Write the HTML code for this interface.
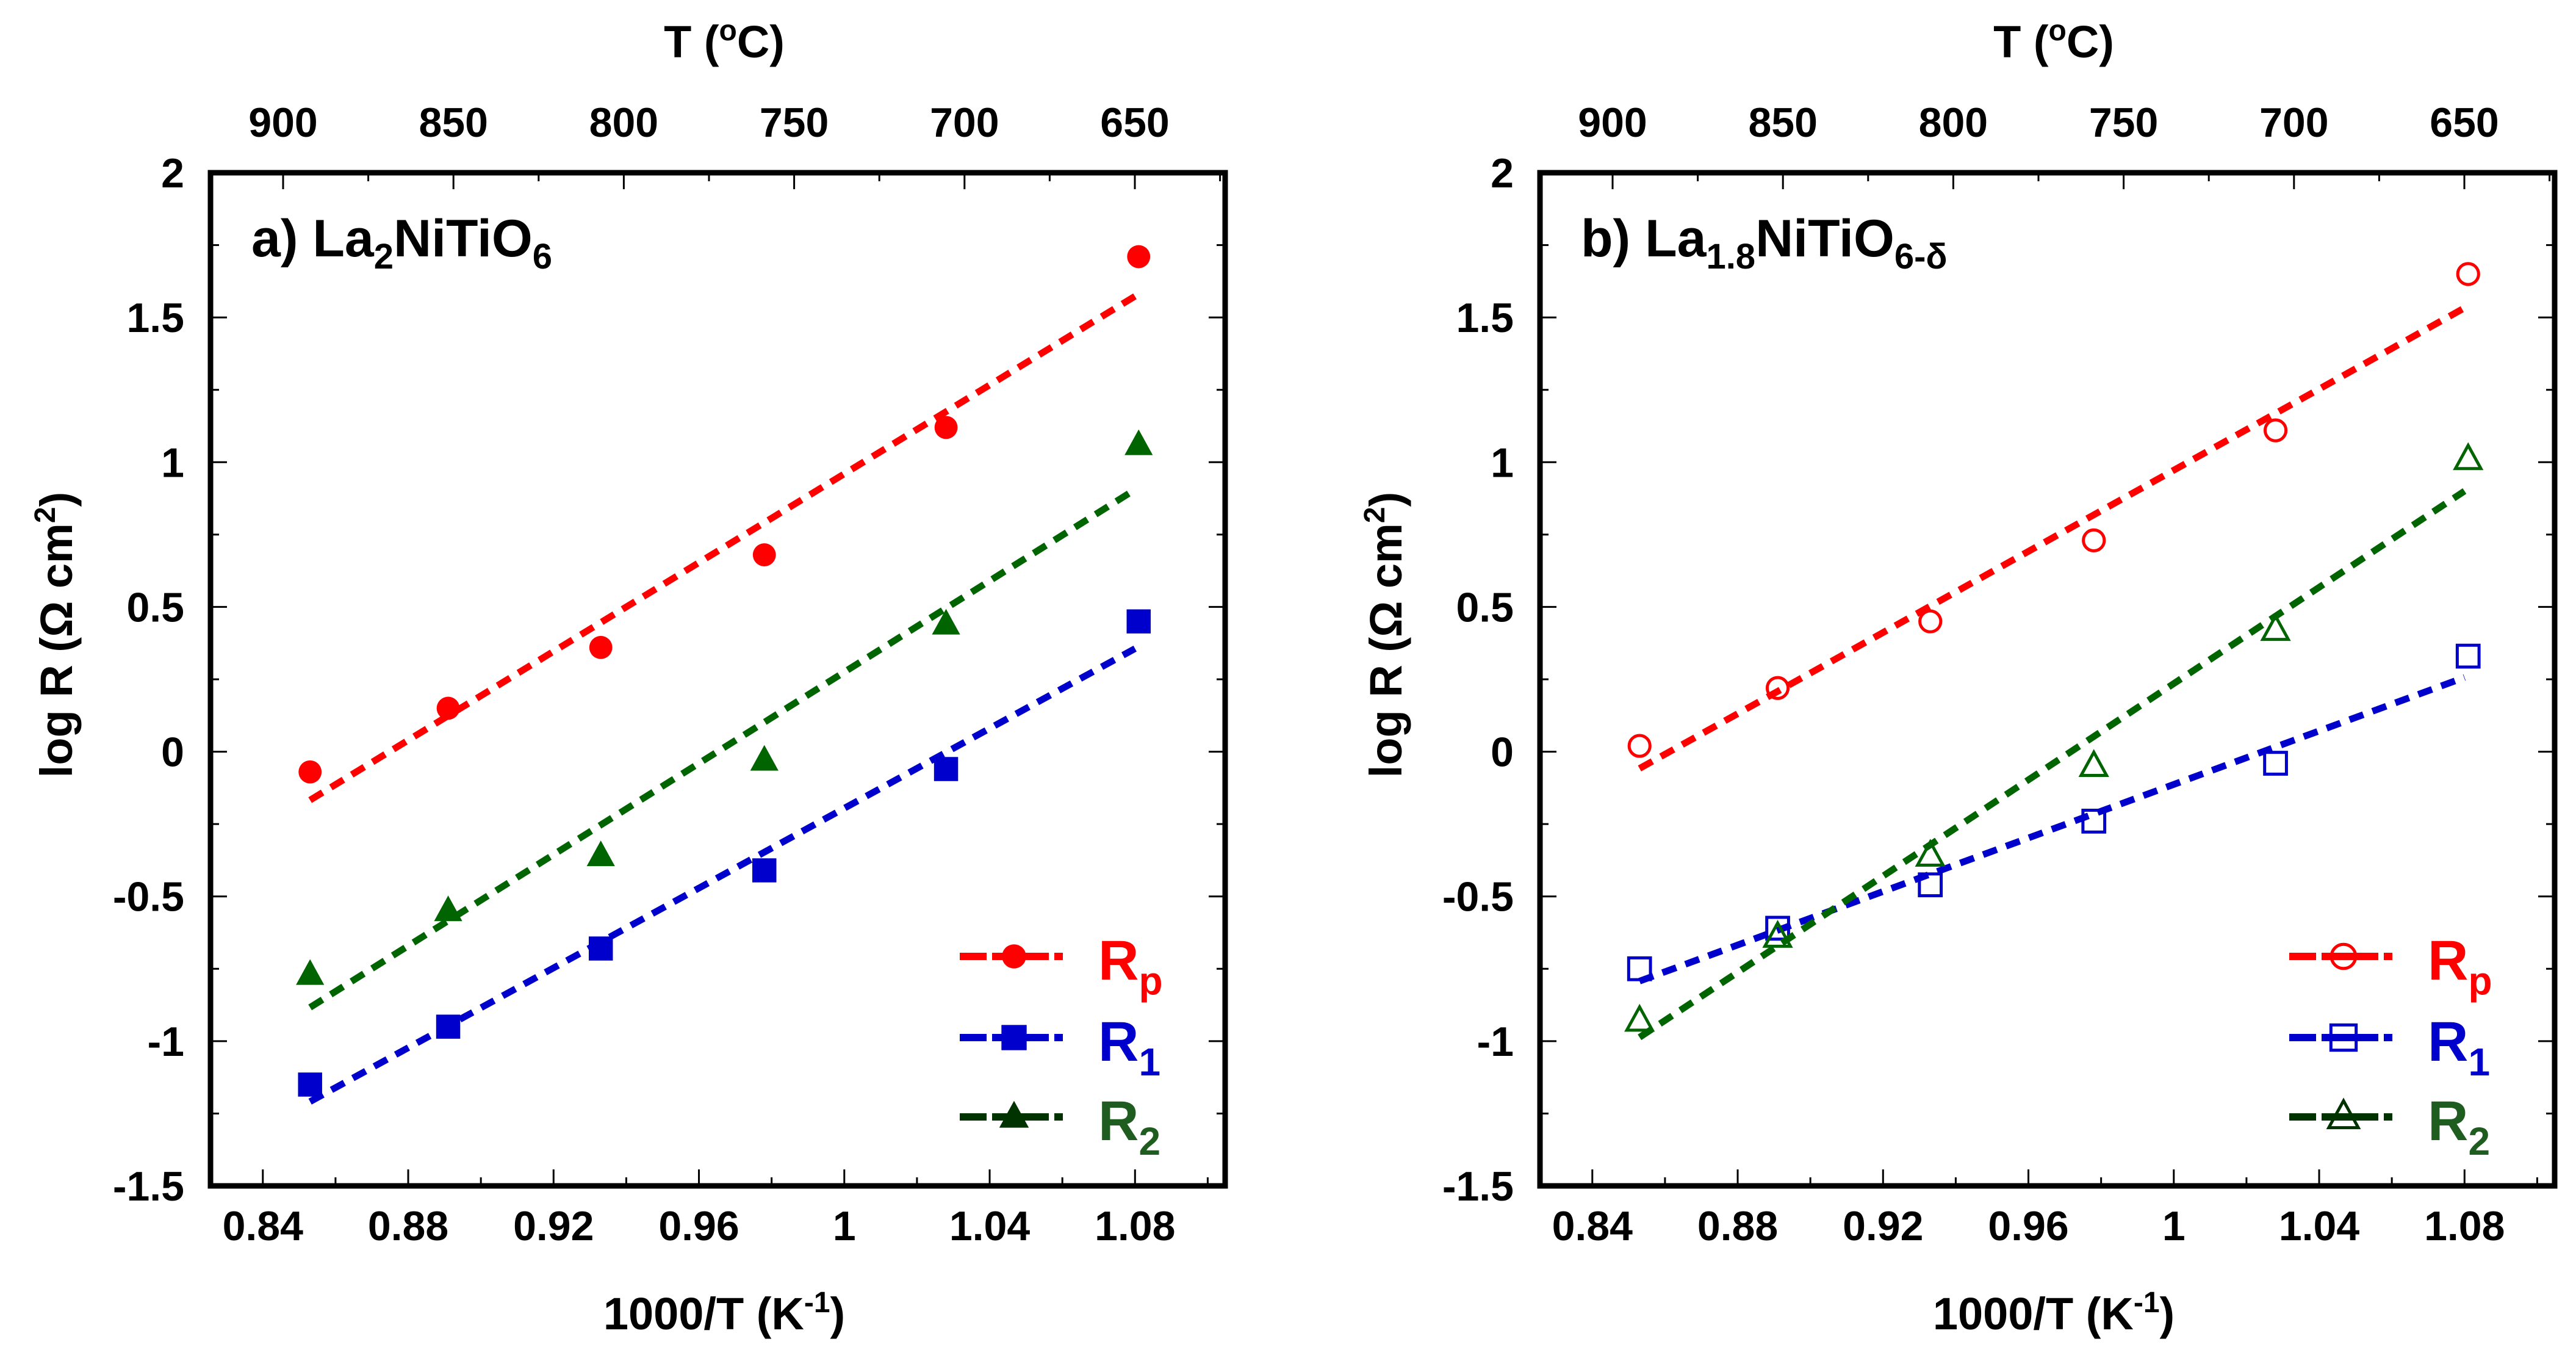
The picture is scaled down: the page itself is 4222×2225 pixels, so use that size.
<!DOCTYPE html>
<html><head><meta charset="utf-8"><style>
html,body{margin:0;padding:0;background:#fff;}
svg{display:block;}
text{font-family:"Liberation Sans",sans-serif;font-weight:bold;}
</style></head><body>
<svg id="fig" width="4222" height="2225" viewBox="0 0 4222 2225" xmlns="http://www.w3.org/2000/svg"></svg>
<script>
// ---- data ----
const xInvT = [0.853, 0.891, 0.933, 0.978, 1.028, 1.081];
const aRp = [-0.07, 0.15, 0.36, 0.68, 1.12, 1.71];
const aR1 = [-1.15, -0.95, -0.68, -0.41, -0.06, 0.45];
const aR2 = [-0.77, -0.55, -0.36, -0.03, 0.44, 1.06];
const bRp = [0.02, 0.22, 0.45, 0.73, 1.11, 1.65];
const bR1 = [-0.75, -0.61, -0.46, -0.24, -0.04, 0.33];
const bR2 = [-0.93, -0.64, -0.36, -0.05, 0.42, 1.01];
const xTicks = [0.84, 0.88, 0.92, 0.96, 1, 1.08, 1.04];
const xTickLabels = ["0.84","0.88","0.92","0.96","1","1.08","1.04"];
const yTicks = [2, 1.5, 1, 0.5, 0, -0.5, -1, -1.5];
const yTickLabels = ["2","1.5","1","0.5","0","-0.5","-1","-1.5"];
const tTicks = [900, 850, 800, 750, 700, 650];
const fitEnd = 1.08;

const NS = "http://www.w3.org/2000/svg";
const svg = document.getElementById('fig');
function el(tag, attrs, parent, txt){
  const e = document.createElementNS(NS, tag);
  for (const k in attrs) e.setAttribute(k, attrs[k]);
  if (txt !== undefined) e.textContent = txt;
  (parent||svg).appendChild(e);
  return e;
}
const colors = {Rp:"#ff0000", R1:"#0000cc", R2:"#006400"};

function panel(ox, label, sub1, sub2, series, filled, pname){
  const L = ox + 345, R = ox + 2008, T = 283, B = 1943;
  const xmin = 0.8256, xmax = 1.1048, ymin = -1.5, ymax = 2;
  const X = v => L + (v - xmin) / (xmax - xmin) * (R - L);
  const Y = v => B - (v - ymin) / (ymax - ymin) * (B - T);
  const TX = t => ox + 464 + (900 - t) / 50 * 279.2;
  const g = el('g', {}, svg);
  
  
  for (let v = 0.82; v <= 1.1001; v += 0.02) {
    const major = Math.abs(Math.round(v*100) % 4) === 0;
    const x = X(v); if (x < L+5 || x > R-5) continue;
    const len = major ? 27 : 14;
    el('line',{x1:x,y1:B,x2:x,y2:B-len,stroke:'#000','stroke-width':3},g);
  }
  for (let t = 900; t >= 625; t -= 25) {
    const x = TX(t); if (x < L+5 || x > R-5) continue;
    const len = (t % 50 === 0) ? 27 : 14;
    el('line',{x1:x,y1:T,x2:x,y2:T+len,stroke:'#000','stroke-width':3},g);
  }
  for (let v = -1.5; v <= 2.001; v += 0.25) {
    const y = Y(v); if (y < T+5 || y > B-5) continue;
    const len = (Math.round(v*4) % 2 === 0) ? 27 : 14;
    el('line',{x1:L,y1:y,x2:L+len,y2:y,stroke:'#000','stroke-width':3},g);
    el('line',{x1:R,y1:y,x2:R-len,y2:y,stroke:'#000','stroke-width':3},g);
  }
  const fr = el('rect',{x:L,y:T,width:R-L,height:B-T,fill:'none',stroke:'#000','stroke-width':9},g);
  
  
  xTicks.forEach((v,i)=>{
    const t = el('text',{x:X(v),y:2032,'text-anchor':'middle','font-size':68},g,xTickLabels[i]);
    
    
  });
  yTicks.forEach((v,i)=>{
    const t = el('text',{x:ox+302,y:Y(v)+24,'text-anchor':'end','font-size':68},g,yTickLabels[i]);
    
    
  });
  tTicks.forEach(v=>{
    const t = el('text',{x:TX(v),y:224,'text-anchor':'middle','font-size':68},g,String(v));
    
    
  });
  const xt = el('text',{x:ox+1187,y:2178,'text-anchor':'middle','font-size':74},g);
  
  
  el('tspan',{},xt,'1000/T (K');
  el('tspan',{dy:-28,'font-size':48},xt,'-1');
  el('tspan',{dy:28},xt,')');
  const tt = el('text',{x:ox+1187,y:94,'text-anchor':'middle','font-size':74},g);
  
  
  el('tspan',{},tt,'T (');
  el('tspan',{dy:-28,'font-size':48},tt,'o');
  el('tspan',{dy:28},tt,'C)');
  const yt = el('text',{x:0,y:0,'text-anchor':'middle','font-size':74,transform:`translate(${ox+118},1040) rotate(-90)`},g);
  
  
  el('tspan',{},yt,'log R (\u03A9 cm');
  el('tspan',{dy:-28,'font-size':48},yt,'2');
  el('tspan',{dy:28},yt,')');
  const pl = el('text',{x:ox+412,y:420,'font-size':86},g);
  
  
  el('tspan',{},pl,label[0]);
  el('tspan',{dy:20,'font-size':58},pl,sub1);
  el('tspan',{dy:-20},pl,label[1]);
  el('tspan',{dy:20,'font-size':58},pl,sub2);
  const names = ['Rp','R1','R2'];
  function marker(kind, cx, cy, col, fill, parent, size){
    let m;
    const s = size;
    if (kind==='Rp') m = el('circle',{cx:cx,cy:cy,r:s*0.45},parent);
    else if (kind==='R1') m = el('rect',{x:cx-s*0.47,y:cy-s*0.47,width:s*0.94,height:s*0.94},parent);
    else m = el('polygon',{points:`${cx},${cy-s*0.6} ${cx+s*0.55},${cy+s*0.4} ${cx-s*0.55},${cy+s*0.4}`},parent);
    if (fill) { m.setAttribute('fill',col); }
    else { m.setAttribute('fill','none'); m.setAttribute('stroke',col); m.setAttribute('stroke-width',5); }
    return m;
  }
  names.forEach((n,si)=>{
    const ys = series[si], col = colors[n];
    const sg = el('g',{},g);
    
    
    const nn = xInvT.length;
    let sx=0,sy=0,sxx=0,sxy=0;
    for (let i=0;i<nn;i++){sx+=xInvT[i];sy+=ys[i];sxx+=xInvT[i]*xInvT[i];sxy+=xInvT[i]*ys[i];}
    const m = (nn*sxy-sx*sy)/(nn*sxx-sx*sx), b = (sy-m*sx)/nn;
    const x0 = xInvT[0];
    const ln = el('line',{x1:X(x0),y1:Y(m*x0+b),x2:X(fitEnd),y2:Y(m*fitEnd+b),stroke:col,'stroke-width':11,'stroke-dasharray':'24 16'},sg);
    
    
    for (let i=0;i<nn;i++){
      const mk = marker(n, X(xInvT[i]), Y(ys[i]), col, filled, sg, filled?42:38);
      
      
    }
  });
  const lg = el('g',{},g);
  
  
  const legY = [1567, 1700, 1830];
  const lineCol = {Rp:'#ff0000',R1:'#0000cc',R2:'#003300'};
  const txtCol = {Rp:'#ff0000',R1:'#0000cc',R2:'#1f5c1f'};
  const subs = ['p','1','2'];
  names.forEach((n,i)=>{
    const e = el('g',{},lg);
    
    
    el('line',{x1:ox+1573,y1:legY[i],x2:ox+1742,y2:legY[i],stroke:lineCol[n],'stroke-width':12,'stroke-dasharray':'44 9 93 9'},e);
    marker(n, ox+1662, legY[i], lineCol[n], filled, e, 44);
    const t = el('text',{x:ox+1800,y:legY[i]+38,'font-size':92,fill:txtCol[n]},e);
    el('tspan',{},t,'R');
    el('tspan',{dy:24,'font-size':64},t,subs[i]);
  });
}
panel(0, ['a) La','NiTiO'], '2', '6', [aRp,aR1,aR2], true, 'panel-a');
panel(2179, ['b) La','NiTiO'], '1.8', '6-\u03B4', [bRp,bR1,bR2], false, 'panel-b');
</script>
</body></html>
